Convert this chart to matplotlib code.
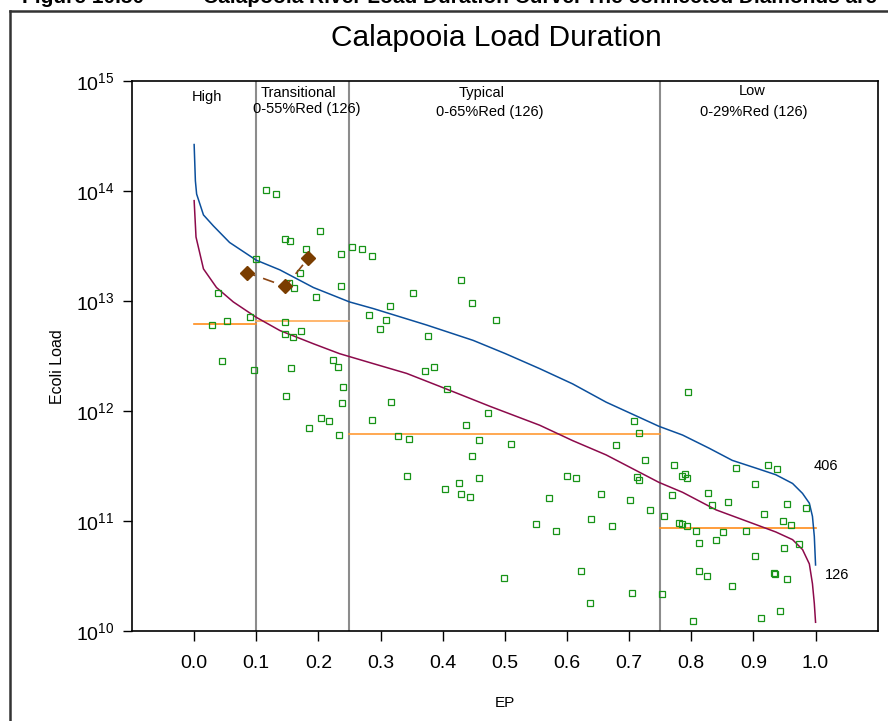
import numpy as np
import matplotlib.pyplot as plt
from matplotlib.lines import Line2D

plt.rcParams['font.family'] = ['Liberation Sans', 'DejaVu Sans']
plt.rcParams['mathtext.fontset'] = 'custom'
plt.rcParams['mathtext.rm'] = 'Liberation Sans'
plt.rcParams['mathtext.it'] = 'Liberation Sans:italic'

# duration curve, 406 samples (blue)
ep_406 = [0.0, 0.002, 0.004, 0.015, 0.031, 0.057, 0.1, 0.138, 0.192, 0.25, 0.288, 0.374,
          0.449, 0.501, 0.556, 0.609, 0.663, 0.748, 0.786, 0.829, 0.866, 0.904, 0.936,
          0.963, 0.979, 0.99, 0.995, 0.998, 1.0]
load_406 = [2.63e14, 1.23e14, 9.33e13, 6.03e13, 4.79e13, 3.39e13, 2.34e13, 1.91e13, 1.32e13,
            9.77e12, 8.51e12, 6.03e12, 4.37e12, 3.31e12, 2.42e12, 1.76e12, 1.20e12, 7.24e11,
            6.03e11, 4.57e11, 3.55e11, 3.02e11, 2.63e11, 2.19e11, 1.78e11, 1.45e11, 1.10e11,
            7.24e10, 3.98e10]

# duration curve, 126 samples (maroon)
ep_126 = [0.0, 0.003, 0.015, 0.036, 0.063, 0.1, 0.138, 0.192, 0.234, 0.288, 0.342, 0.406,
          0.476, 0.556, 0.609, 0.663, 0.748, 0.786, 0.84, 0.893, 0.936, 0.963, 0.979, 0.99,
          0.995, 0.998, 1.0]
load_126 = [8.13e13, 3.80e13, 1.95e13, 1.32e13, 9.77e12, 7.08e12, 5.37e12, 4.07e12, 3.31e12,
            2.69e12, 2.19e12, 1.58e12, 1.10e12, 7.41e11, 5.37e11, 3.98e11, 2.24e11, 1.82e11,
            1.26e11, 9.77e10, 7.94e10, 6.76e10, 5.50e10, 4.07e10, 2.69e10, 1.78e10, 1.20e10]

# observed loads (green squares)
obs_ep = [0.1164, 0.1313, 0.2020, 0.1458, 0.1549, 0.1806, 0.2535, 0.2707, 0.2363, 0.0996,
          0.1710, 0.2358, 0.1614, 0.1967, 0.0376, 0.0530, 0.0284, 0.0900, 0.1458, 0.1715,
          0.1458, 0.1586, 0.0445, 0.0971, 0.1554, 0.2240, 0.2321, 0.2390, 0.1474, 0.2374,
          0.2036, 0.2165, 0.1843, 0.2326, 0.2867, 0.4291, 0.3520, 0.4468, 0.3157, 0.2813,
          0.3092, 0.4865, 0.2985, 0.3767, 0.3708, 0.3857, 0.4066, 0.3161, 0.2856, 0.4736,
          0.4372, 0.3274, 0.3451, 0.4581, 0.7078, 0.7163, 0.5106, 0.4468, 0.6782, 0.7255,
          0.3430, 0.4592, 0.4259, 0.4040, 0.4302, 0.4436, 0.6006, 0.6151, 0.7131, 0.7163,
          0.6553, 0.5712, 0.7014, 0.7340, 0.6392, 0.5503, 0.5818, 0.6718, 0.6231, 0.4982,
          0.7040, 0.6365, 0.7940, 0.7721, 0.7898, 0.7843, 0.7930, 0.7694, 0.7554, 0.7795,
          0.7843, 0.7930, 0.8075, 0.8128, 0.8267, 0.8332, 0.8589, 0.8518, 0.8390, 0.8727,
          0.9023, 0.8888, 0.9237, 0.9386, 0.9167, 0.9547, 0.9473, 0.9606, 0.9852, 0.9740,
          0.9489, 0.9028, 0.8128, 0.8261, 0.8658, 0.9333, 0.9344, 0.9547, 0.7528, 0.8026,
          0.9124, 0.9430, 0.1522]
obs_load = [1.02e14, 9.35e13, 4.31e13, 3.65e13, 3.47e13, 2.96e13, 3.10e13, 2.98e13, 2.65e13, 2.38e13,
            1.80e13, 1.37e13, 1.32e13, 1.09e13, 1.19e13, 6.56e12, 6.03e12, 7.17e12, 6.38e12, 5.28e12,
            5.00e12, 4.69e12, 2.82e12, 2.34e12, 2.44e12, 2.90e12, 2.52e12, 1.65e12, 1.36e12, 1.18e12,
            8.62e11, 8.09e11, 6.99e11, 6.04e11, 2.54e13, 1.55e13, 1.19e13, 9.62e12, 8.92e12, 7.48e12,
            6.65e12, 6.65e12, 5.58e12, 4.82e12, 2.32e12, 2.50e12, 1.59e12, 1.20e12, 8.21e11, 9.63e11,
            7.44e11, 5.91e11, 5.55e11, 5.44e11, 8.09e11, 6.34e11, 5.00e11, 3.92e11, 4.93e11, 3.58e11,
            2.58e11, 2.46e11, 2.20e11, 1.95e11, 1.76e11, 1.65e11, 2.56e11, 2.46e11, 2.52e11, 2.36e11,
            1.77e11, 1.61e11, 1.55e11, 1.26e11, 1.04e11, 9.33e10, 8.11e10, 8.94e10, 3.53e10, 3.03e10,
            2.21e10, 1.80e10, 1.49e12, 3.24e11, 2.69e11, 2.56e11, 2.46e11, 1.72e11, 1.10e11, 9.58e10,
            9.44e10, 9.05e10, 8.15e10, 6.26e10, 1.79e11, 1.41e11, 1.50e11, 7.98e10, 6.71e10, 3.05e11,
            2.18e11, 8.11e10, 3.20e11, 2.96e11, 1.16e11, 1.43e11, 1.00e11, 9.19e10, 1.30e11, 6.21e10,
            5.64e10, 4.80e10, 3.49e10, 3.18e10, 2.56e10, 3.34e10, 3.27e10, 2.97e10, 2.15e10, 1.24e10,
            1.31e10, 1.51e10, 1.45e13]

# connected diamonds
dia_ep = [0.0857, 0.147, 0.184]
dia_load = [1.80e13, 1.35e13, 2.45e13]

# flow zones and target loads
zone_edges = [0.0, 0.1, 0.25, 0.75, 1.0]
zone_target = [6.1e12, 6.6e12, 6.2e11, 8.65e10]
zone_colors = ['#ff8c1a', '#ffaa55', '#ff9a33', '#ff8c1a']
zone_lines = [0.1, 0.25, 0.75]

fig = plt.figure(figsize=(8.88, 7.21), dpi=100)
ax = fig.add_axes([0.14865, 0.12483, 0.83975, 0.76325])

for xv in zone_lines:
    ax.axvline(xv, color='#8c8c8c', lw=1.5, zorder=1)

for i in range(len(zone_target)):
    ax.plot([zone_edges[i], zone_edges[i + 1]], [zone_target[i], zone_target[i]],
            color=zone_colors[i], lw=1.2, zorder=2)

ax.plot(ep_406, load_406, color='#0b4f9c', lw=1.1, zorder=3)
ax.plot(ep_126, load_126, color='#8c0a4b', lw=1.1, zorder=3)

ax.plot(obs_ep, obs_load, 's', ms=4.3, mfc='none', mec='#179317', mew=0.9, zorder=4)

ax.plot(dia_ep, dia_load, color='#8b4513', lw=1.2, linestyle=(2, (7, 5)), zorder=5)
ax.plot(dia_ep, dia_load, 'D', ms=7.2, color='#7a3d00', zorder=6, linestyle='none')

ax.set_yscale('log')
ax.set_xlim(-0.1, 1.1)
ax.set_ylim(1e10, 1e15)
ax.set_xticks(np.arange(0, 11) / 10)
ax.set_xticklabels(['%.1f' % v for v in np.arange(0, 11) / 10])
ax.set_yticks([1e10, 1e11, 1e12, 1e13, 1e14, 1e15])
ax.set_yticklabels([r'$\mathdefault{10^{%d}}$' % p for p in range(10, 16)])
ax.yaxis.set_minor_locator(plt.NullLocator())
ax.tick_params(axis='x', direction='out', length=7, width=1, labelsize=14, pad=10, top=False)
ax.tick_params(axis='y', direction='out', length=6.5, width=1, labelsize=14, pad=6, right=False)
for s in ax.spines.values():
    s.set_linewidth(1.2)

# zone labels
ax.text(0.020, 7.1e14, 'High', ha='center', va='center', fontsize=10.5)
ax.text(0.168, 7.75e14, 'Transitional', ha='center', va='center', fontsize=10.5)
ax.text(0.181, 5.55e14, '0-55%Red (126)', ha='center', va='center', fontsize=10.5)
ax.text(0.463, 7.75e14, 'Typical', ha='center', va='center', fontsize=10.5)
ax.text(0.475, 5.2e14, '0-65%Red (126)', ha='center', va='center', fontsize=10.5)
ax.text(0.898, 8.0e14, 'Low', ha='center', va='center', fontsize=10.5)
ax.text(0.901, 5.2e14, '0-29%Red (126)', ha='center', va='center', fontsize=10.5)
ax.text(1.017, 3.15e11, '406', ha='center', va='center', fontsize=10.5)
ax.text(1.034, 3.2e10, '126', ha='center', va='center', fontsize=10.5)

fig.text(57 / 888, 1 - 367 / 721, 'Ecoli Load', rotation=90, ha='center', va='center', fontsize=11.5)
fig.text(505 / 888, 1 - 703 / 721, 'EP', ha='center', va='center', fontsize=11)
fig.text(496 / 888, 1 - 38 / 721, 'Calapooia Load Duration', ha='center', va='center', fontsize=21.5)

# cut-off caption and page frame
fig.text(22 / 888, 1 - 3 / 721, 'Figure 10.50', ha='left', va='baseline',
         fontsize=15, fontweight='bold')
fig.text(203 / 888, 1 - 3 / 721, 'Calapooia River Load Duration Curve. The connected Diamonds are',
         ha='left', va='baseline', fontsize=15, fontweight='bold')
fig.add_artist(Line2D([10 / 888, 1], [1 - 11 / 721, 1 - 11 / 721], color='#333333', lw=1.8))
fig.add_artist(Line2D([10 / 888, 10 / 888], [0, 1 - 11 / 721], color='#333333', lw=1.8))

fig.savefig('out.png', dpi=100)
